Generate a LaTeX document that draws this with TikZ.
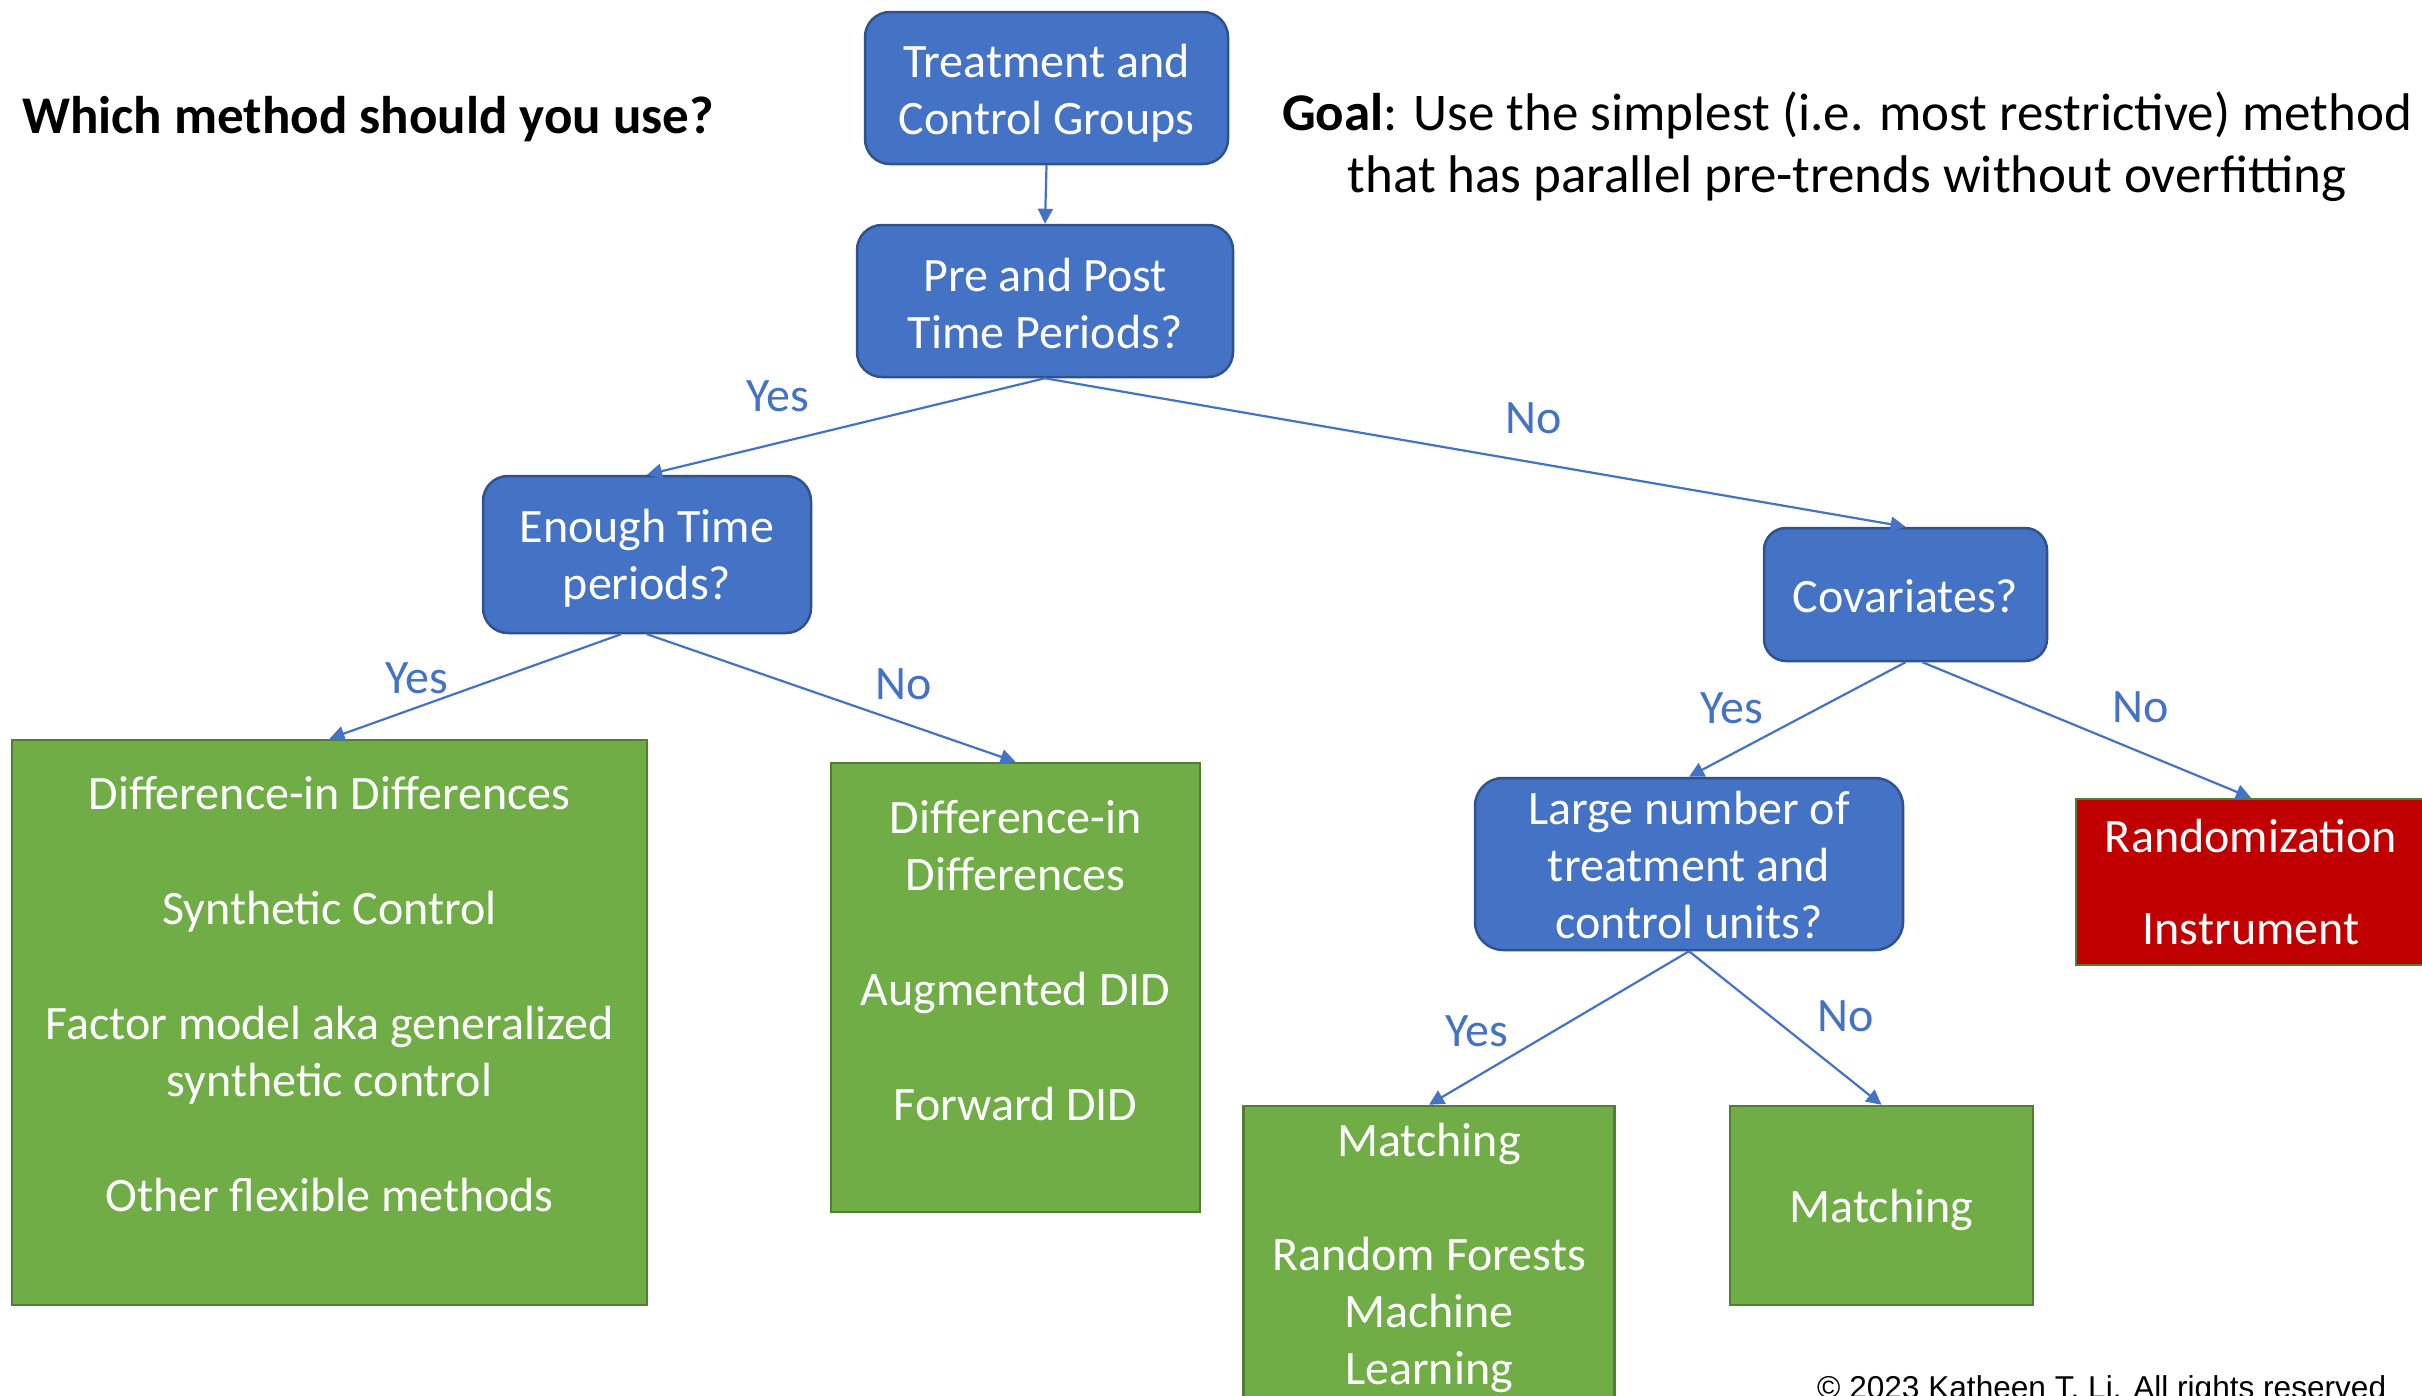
\documentclass[tikz,border=0pt]{standalone}
\usepackage{fontspec}
\setmainfont{Carlito}
\newfontfamily\arialfont{Liberation Sans}
\usetikzlibrary{arrows.meta,calc}
\definecolor{bluefill}{HTML}{4472C4}
\definecolor{blueline}{HTML}{2F528F}
\definecolor{greenfill}{HTML}{70AD47}
\definecolor{greenline}{HTML}{507E32}
\definecolor{redfill}{HTML}{C00000}
\begin{document}
\begin{tikzpicture}[x=1pt,y=-1pt,
  boxfont/.style={font=\fontsize{48}{57}\selectfont},
  qbox/.style={draw=blueline, fill=bluefill, line width=2.5pt, rounded corners=25pt, text=white, align=center, inner sep=0pt, boxfont},
  gbox/.style={draw=greenline, fill=greenfill, line width=2.5pt, inner sep=0pt},
  rbox/.style={draw=greenline, fill=redfill, line width=2.5pt, inner sep=0pt, text=white, align=center, boxfont},
  btext/.style={text=white, align=center, inner sep=0pt, boxfont},
  lab/.style={text=bluefill, inner sep=0pt, boxfont},
  conn/.style={draw=bluefill, line width=2.2pt, -{Triangle[length=15pt,width=15pt]}},
]
\fill[white] (0,0) rectangle (2422,1395);
\useasboundingbox (0,0) rectangle (2422,1395);

% question boxes
\node[qbox, minimum width=363pt, minimum height=152pt] (treat) at (1046.5,88) {};
\node[btext] (treatt) at (1046.5,95) {\strut Treatment and\\\strut Control Groups};
\node[qbox, minimum width=376pt, minimum height=152pt] (pre) at (1045,301) {};
\node[btext] (pret) at (1045,309) {\strut Pre and Post\\\strut Time Periods?};
\node[qbox, minimum width=328pt, minimum height=157pt] (enough) at (647,554.5) {};
\node[btext] (enought) at (647,560) {\strut Enough Time\\\strut periods?};
\node[qbox, minimum width=283pt, minimum height=133pt, rounded corners=22pt] (cov) at (1905.5,594.5) {};
\node[btext] (covt) at (1905.5,601) {\strut Covariates?};
\node[qbox, minimum width=428pt, minimum height=172pt, rounded corners=28pt] (large) at (1689,864) {};
\node[btext] (larget) at (1689,870) {\strut Large number of\\\strut treatment and\\\strut control units?};

% result boxes
\node[gbox, minimum width=635pt, minimum height=565pt] (g1) at (329.5,1022.5) {};
\node[btext] (g1t) at (329.5,999) {\strut Difference-in Differences\\[58pt]\strut Synthetic Control\\[58pt]\strut Factor model aka generalized\\\strut synthetic control\\[58pt]\strut Other flexible methods};
\node[gbox, minimum width=369pt, minimum height=449pt] (g2) at (1015.5,987.5) {};
\node[btext] (g2t) at (1015.5,966) {\strut Difference-in\\\strut Differences\\[58pt]\strut Augmented DID\\[58pt]\strut Forward DID};
\node[rbox, minimum width=350pt, minimum height=166pt] (red) at (2251,882) {};
\node[btext] (redt) at (2251,887) {\strut Randomization\\[35pt]\strut Instrument};
\node[gbox, minimum width=371pt, minimum height=334pt] (m1) at (1429,1273) {};
\node[btext] (m1t) at (1429,1259) {\strut Matching\\[57pt]\strut Random Forests\\\strut Machine\\\strut Learning};
\node[gbox, minimum width=303pt, minimum height=199pt] (m2) at (1881.5,1205.5) {};
\node[btext] (m2t) at (1881.5,1211) {\strut Matching};

% connectors
\draw[conn] (treat.south) -- (pre.north);
\draw[conn] (pre.south) -- (enough.north);
\draw[conn] (pre.south) -- (cov.north);
\draw[conn] ([xshift=-26pt]enough.south) -- (g1.north);
\draw[conn] (enough.south) -- (g2.north);
\draw[conn] (cov.south) -- (large.north);
\draw[conn] ([xshift=17pt]cov.south) -- (red.north);
\draw[conn] (large.south) -- (m1.north);
\draw[conn] (large.south) -- (m2.north);

% labels
\node[lab] (y1) at (778,400) {\strut Yes};
\node[lab] (n1) at (1534,422) {\strut No};
\node[lab] (y2) at (417,682) {\strut Yes};
\node[lab] (n2) at (904,688) {\strut No};
\node[lab] (y3) at (1732,712) {\strut Yes};
\node[lab] (n3) at (2141,711) {\strut No};
\node[lab] (y4) at (1477,1035) {\strut Yes};
\node[lab] (n4) at (1846,1020) {\strut No};

% texts
\node[anchor=west, inner sep=0pt, font=\bfseries\fontsize{53}{60}\selectfont] (which) at (22,121) {\strut Which method should you use?};
\node[align=center, inner sep=0pt, font=\fontsize{53}{62}\selectfont] (goal) at (1847,149) {\strut\textbf{Goal}: Use the simplest (i.e. most restrictive) method\\\strut that has parallel pre-trends without overfitting};
\node[anchor=base west, inner sep=0pt, font=\arialfont\fontsize{31.6}{38}\selectfont] (copy) at (1817,1398) {© 2023 Katheen T. Li. All rights reserved};
\end{tikzpicture}
\end{document}
